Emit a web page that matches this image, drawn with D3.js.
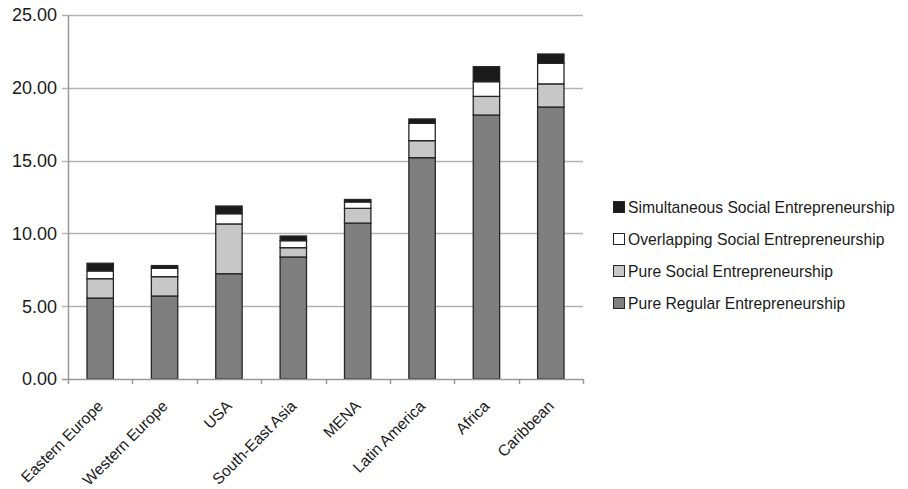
<!DOCTYPE html>
<html>
<head>
<meta charset="utf-8">
<script src="https://cdn.jsdelivr.net/npm/d3@7"></script>
<style>
  html, body { margin: 0; padding: 0; background: #fff; }
  svg { display: block; font-family: "Liberation Sans", Arial, sans-serif; }
</style>
</head>
<body>
<svg id="chart" width="908" height="489"></svg>
<script>
// Regions along the x axis
const regions = ["Eastern Europe", "Western Europe", "USA", "South-East Asia", "MENA", "Latin America", "Africa", "Caribbean"];

// Stacked series, bottom to top
const pureRegular   = [5.56, 5.70, 7.23, 8.38, 10.71, 15.20, 18.13, 18.68];
const pureSocial    = [1.33, 1.33, 3.42, 0.64, 1.01, 1.17, 1.28, 1.59];
const overlapping   = [0.53, 0.57, 0.70, 0.48, 0.44, 1.19, 1.01, 1.41];
const simultaneous  = [0.53, 0.19, 0.53, 0.32, 0.17, 0.30, 1.03, 0.64];

const seriesNames = [
  "Pure Regular Entrepreneurship",
  "Pure Social Entrepreneurship",
  "Overlapping Social Entrepreneurship",
  "Simultaneous Social Entrepreneurship"
];
const seriesColors = ["#7f7f7f", "#c6c7c6", "#ffffff", "#1a1a1a"];

const yTicks = [0, 5, 10, 15, 20, 25];

const rows = regions.map((r, i) => ({
  region: r,
  s0: pureRegular[i], s1: pureSocial[i], s2: overlapping[i], s3: simultaneous[i]
}));
const keys = ["s0", "s1", "s2", "s3"];
const stacked = d3.stack().keys(keys)(rows);

const svg = d3.select("#chart");
const plot = { left: 68, right: 583, top: 15, bottom: 379 };

const x = d3.scaleBand().domain(regions).range([plot.left, plot.right]).paddingInner(0.59).paddingOuter(0.295);
const y = d3.scaleLinear().domain([0, 25]).range([plot.bottom, plot.top]);
const xEdges = d3.scaleLinear().domain([0, regions.length]).range([plot.left, plot.right]);

// Horizontal gridlines with short ticks to the left of the axis
svg.append("g").selectAll("line").data(yTicks.filter(t => t > 0)).join("line")
  .attr("x1", plot.left - 6).attr("x2", plot.right)
  .attr("y1", d => Math.round(y(d)) + 0.5).attr("y2", d => Math.round(y(d)) + 0.5)
  .attr("stroke", "#b3b3b3").attr("stroke-width", 1.5);

// Y axis labels
svg.append("g").selectAll("text").data(yTicks).join("text")
  .attr("x", 57).attr("y", d => y(d))
  .attr("dy", "0.36em")
  .attr("text-anchor", "end")
  .attr("font-size", 18)
  .attr("fill", "#1a1a1a")
  .text(d => d3.format(".2f")(d));

// Stacked bars
svg.append("g").selectAll("g").data(stacked).join("g")
  .attr("fill", (d, i) => seriesColors[i])
  .selectAll("rect").data(d => d).join("rect")
  .attr("x", d => x(d.data.region))
  .attr("width", x.bandwidth())
  .attr("y", d => y(d[1]))
  .attr("height", d => y(d[0]) - y(d[1]))
  .attr("stroke", "#262626")
  .attr("stroke-width", 1.3);

// Axes lines
const axisColor = "#999999";
svg.append("line")
  .attr("x1", plot.left + 0.5).attr("x2", plot.left + 0.5)
  .attr("y1", plot.top).attr("y2", plot.bottom)
  .attr("stroke", axisColor).attr("stroke-width", 1.5);
svg.append("line")
  .attr("x1", plot.left - 6).attr("x2", plot.right)
  .attr("y1", plot.bottom + 0.5).attr("y2", plot.bottom + 0.5)
  .attr("stroke", axisColor).attr("stroke-width", 1.5);

// Category boundary ticks below the x axis
svg.append("g").selectAll("line").data(d3.range(regions.length + 1)).join("line")
  .attr("x1", d => Math.round(xEdges(d)) + 0.5).attr("x2", d => Math.round(xEdges(d)) + 0.5)
  .attr("y1", plot.bottom).attr("y2", plot.bottom + 5)
  .attr("stroke", axisColor).attr("stroke-width", 1.5);

// Rotated category labels
svg.append("g").selectAll("text").data(regions).join("text")
  .attr("transform", d => `translate(${x(d) + x.bandwidth() / 2 + 4},${plot.bottom + 28}) rotate(-45)`)
  .attr("text-anchor", "end")
  .attr("font-size", 15.6)
  .attr("fill", "#1a1a1a")
  .text(d => d);

// Legend, top entry is the top of the stack
const legendOrder = [3, 2, 1, 0];
const legend = svg.append("g").selectAll("g").data(legendOrder).join("g")
  .attr("transform", (d, i) => `translate(613,${207 + i * 32})`);
legend.append("rect")
  .attr("x", 0.5).attr("y", -5.5).attr("width", 11).attr("height", 11)
  .attr("fill", d => seriesColors[d])
  .attr("stroke", "#262626").attr("stroke-width", 1);
legend.append("text")
  .attr("x", 15).attr("y", 0).attr("dy", "0.36em")
  .attr("font-size", 15.7)
  .attr("fill", "#1a1a1a")
  .text(d => seriesNames[d]);
</script>
</body>
</html>
